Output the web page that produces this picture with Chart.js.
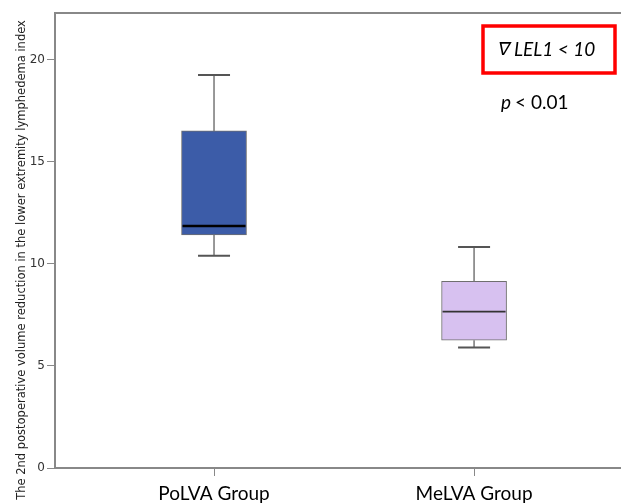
<!DOCTYPE html>
<html>
<head>
<meta charset="utf-8">
<script src="https://cdn.jsdelivr.net/npm/chart.js@4"></script>
<style>
  html, body { margin: 0; padding: 0; background: #fff; }
  #wrap { position: relative; width: 621px; height: 504px; }
</style>
</head>
<body>
<div id="wrap"><canvas id="boxChart" width="621" height="504"></canvas></div>
<script>
// box plot values
const groups = ['PoLVA Group', 'MeLVA Group'];
const whiskerLow = [10.4, 5.9];
const quartile1 = [11.42, 6.26];
const medians = [11.86, 7.66];
const quartile3 = [16.52, 9.15];
const whiskerHigh = [19.26, 10.83];
const boxColors = ['#3c5ca8', '#d7c1f0'];
const medianColors = ['#000000', '#333333'];
const yTicks = [0, 5, 10, 15, 20];
const yTitle = 'The 2nd postoperative volume reduction in the lower extremity lymphedema index';

const boxes = groups.map((g, i) => ({ x: i + 1, y: [quartile1[i], quartile3[i]] }));

const whiskerPlugin = {
    id: 'whiskers',
    afterDatasetsDraw(chart) {
        const ctx = chart.ctx;
        const xs = chart.scales.x;
        const ys = chart.scales.y;
        const area = chart.chartArea;

        ctx.save();
        groups.forEach((g, i) => {
            const cx = xs.getPixelForValue(i + 1);
            const half = 32.5;
            const cap = 16;
            ctx.strokeStyle = '#777';
            ctx.lineWidth = 1.5;
            ctx.beginPath();
            ctx.moveTo(cx, ys.getPixelForValue(quartile3[i]));
            ctx.lineTo(cx, ys.getPixelForValue(whiskerHigh[i]));
            ctx.moveTo(cx, ys.getPixelForValue(quartile1[i]));
            ctx.lineTo(cx, ys.getPixelForValue(whiskerLow[i]));
            ctx.stroke();

            ctx.strokeStyle = '#555';
            ctx.lineWidth = 2;
            ctx.beginPath();
            [whiskerHigh[i], whiskerLow[i]].forEach(v => {
                const py = ys.getPixelForValue(v);
                ctx.moveTo(cx - cap, py);
                ctx.lineTo(cx + cap, py);
            });
            ctx.stroke();

            ctx.strokeStyle = medianColors[i];
            ctx.lineWidth = i === 0 ? 2.5 : 1.8;
            ctx.beginPath();
            const my = ys.getPixelForValue(medians[i]);
            ctx.moveTo(cx - half + 1, my);
            ctx.lineTo(cx + half - 1, my);
            ctx.stroke();
        });

        // top frame line
        ctx.strokeStyle = '#888';
        ctx.lineWidth = 2;
        ctx.beginPath();
        ctx.moveTo(area.left, area.top);
        ctx.lineTo(area.right, area.top);
        ctx.stroke();

        // y axis title, sits a little below the plot centre as in the original
        ctx.save();
        ctx.translate(22, 260);
        ctx.rotate(-Math.PI / 2);
        ctx.fillStyle = '#222';
        ctx.textAlign = 'center';
        ctx.textBaseline = 'middle';
        ctx.font = '11.5px "DejaVu Sans"';
        ctx.fillText(yTitle, 0, 0);
        ctx.restore();

        // annotation box
        ctx.strokeStyle = '#ff0000';
        ctx.lineWidth = 3.5;
        ctx.strokeRect(483, 26, 132, 47);
        ctx.fillStyle = '#000';
        ctx.textBaseline = 'middle';
        ctx.textAlign = 'left';
        ctx.save();
        ctx.translate(498, 50);
        ctx.transform(1, 0, -0.2, 1, 0, 0);
        ctx.font = '18px "DejaVu Sans"';
        ctx.fillText('\u2207', 0, 0);
        ctx.restore();
        ctx.font = 'italic 19px Lato';
        ctx.fillText('LEL1 < 10', 514, 50);
        ctx.font = '19px Lato';
        ctx.fillText('< 0.01', 515, 103);
        ctx.font = 'italic 19px Lato';
        ctx.fillText('p', 501, 103);
        ctx.restore();
    }
};

new Chart(document.getElementById('boxChart').getContext('2d'), {
    type: 'bar',
    data: {
        datasets: [{
            data: boxes,
            backgroundColor: boxColors,
            borderColor: '#6f6f6f',
            borderWidth: 1,
            borderSkipped: false,
            barThickness: 65
        }]
    },
    options: {
        responsive: false,
        animation: false,
        events: [],
        layout: { padding: { top: 13, right: 0, left: 0, bottom: 0 } },
        plugins: {
            legend: { display: false },
            tooltip: { enabled: false }
        },
        scales: {
            x: {
                type: 'linear',
                min: 0.3885,
                max: 2.565,
                offset: false,
                grid: {
                    display: true,
                    offset: false,
                    drawOnChartArea: false,
                    drawTicks: true,
                    tickLength: 8,
                    color: '#888'
                },
                border: { display: true, color: '#888', width: 2 },
                afterBuildTicks: scale => {
                    scale.ticks = groups.map((g, i) => ({ value: i + 1 }));
                },
                afterFit: scale => { scale.height = 36; },
                ticks: {
                    autoSkip: false,
                    maxRotation: 0,
                    padding: 6,
                    color: '#000',
                    font: { family: 'Lato', size: 19 },
                    callback: v => groups[v - 1] || ''
                }
            },
            y: {
                min: 0,
                max: 22.3,
                grid: {
                    display: true,
                    drawOnChartArea: false,
                    drawTicks: true,
                    tickLength: 8,
                    color: '#888'
                },
                border: { display: true, color: '#888', width: 2 },
                afterBuildTicks: scale => {
                    scale.ticks = yTicks.map(v => ({ value: v }));
                },
                afterFit: scale => { scale.width = 55; },
                ticks: {
                    padding: 2,
                    color: '#333',
                    font: { family: 'DejaVu Sans', size: 12 }
                }
            }
        }
    },
    plugins: [whiskerPlugin]
});
</script>
</body>
</html>
